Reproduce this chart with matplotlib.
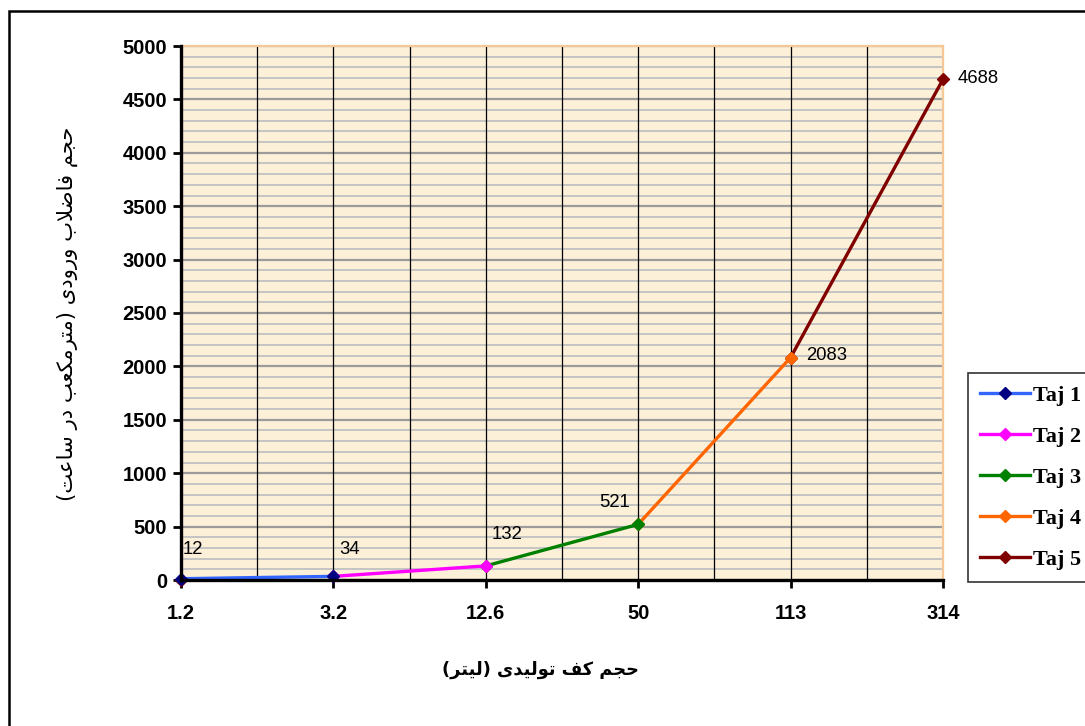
import numpy as np
import matplotlib.pyplot as plt
from matplotlib.ticker import MultipleLocator
from matplotlib.patches import Rectangle

# ---- data ----
categories = ['1.2', '3.2', '12.6', '50', '113', '314']
totals = [12, 34, 132, 521, 2083, 4688]
nan = np.nan
taj1 = [12, 34, nan, nan, nan, nan]
taj2 = [nan, 34, 132, nan, nan, nan]
taj3 = [nan, nan, 132, 521, nan, nan]
taj4 = [nan, nan, nan, 521, 2083, nan]
taj5 = [0, nan, nan, nan, 2083, 4688]
series_names = ['Taj 1', 'Taj 2', 'Taj 3', 'Taj 4', 'Taj 5']

x_title = 'حجم كف توليدى (ليتر)'
y_title = 'حجم فاضلاب ورودى (مترمكعب در ساعت)'

# styles
line_colors = ['#3366ff', '#ff00ff', '#008000', '#ff6600', '#800000']
marker_colors = ['#000080', '#ff00ff', '#008000', '#ff6600', '#800000']
label_offsets = [(12, 29), (16, 27), (21, 31), (-24, 22), (36, 2), (35, 1)]  # pixels


# matplotlib has no arabic shaping, so pick the presentation forms by hand
FORMS = {
    'ا': ('\uFE8D', '\uFE8E', None, None),
    'ب': ('\uFE8F', '\uFE90', '\uFE91', '\uFE92'),
    'ت': ('\uFE95', '\uFE96', '\uFE97', '\uFE98'),
    'ج': ('\uFE9D', '\uFE9E', '\uFE9F', '\uFEA0'),
    'ح': ('\uFEA1', '\uFEA2', '\uFEA3', '\uFEA4'),
    'د': ('\uFEA9', '\uFEAA', None, None),
    'ر': ('\uFEAD', '\uFEAE', None, None),
    'س': ('\uFEB1', '\uFEB2', '\uFEB3', '\uFEB4'),
    'ض': ('\uFEBD', '\uFEBE', '\uFEBF', '\uFEC0'),
    'ع': ('\uFEC9', '\uFECA', '\uFECB', '\uFECC'),
    'ف': ('\uFED1', '\uFED2', '\uFED3', '\uFED4'),
    'ك': ('\uFED9', '\uFEDA', '\uFEDB', '\uFEDC'),
    'ل': ('\uFEDD', '\uFEDE', '\uFEDF', '\uFEE0'),
    'م': ('\uFEE1', '\uFEE2', '\uFEE3', '\uFEE4'),
    'و': ('\uFEED', '\uFEEE', None, None),
    'ى': ('\uFEEF', '\uFEF0', '\uFBE8', '\uFBE9'),
    'ي': ('\uFEF1', '\uFEF2', '\uFEF3', '\uFEF4'),
}


def joins_next(c):
    return c in FORMS and FORMS[c][2] is not None


def shape(text):
    out = []
    i = 0
    n = len(text)
    while i < n:
        c = text[i]
        if c not in FORMS:
            out.append(c)
            i += 1
            continue
        prev_joins = i > 0 and joins_next(text[i - 1])
        if c == 'ل' and i + 1 < n and text[i + 1] == 'ا':
            out.append('\uFEFC' if prev_joins else '\uFEFB')
            i += 2
            continue
        next_joins = joins_next(c) and i + 1 < n and text[i + 1] in FORMS
        iso, fin, ini, med = FORMS[c]
        if prev_joins and next_joins:
            out.append(med)
        elif prev_joins:
            out.append(fin)
        elif next_joins:
            out.append(ini)
        else:
            out.append(iso)
        i += 1
    return ''.join(reversed(out)).translate(str.maketrans('()', ')('))


W, H = 1085, 726
fig = plt.figure(figsize=(W / 100, H / 100), dpi=100)
ax = fig.add_axes([181 / W, 1 - 580 / H, (943 - 181) / W, (580 - 46) / H])
ax.set_facecolor('#fcf0d9')
ax.set_axisbelow(True)

x = np.arange(len(categories))
ax.set_xlim(0, len(categories) - 1)
ax.set_ylim(0, 5000)

# grid
ax.yaxis.set_major_locator(MultipleLocator(500))
ax.yaxis.set_minor_locator(MultipleLocator(100))
ax.grid(which='minor', axis='y', color='#c4c4c4', lw=1.4)
ax.grid(which='major', axis='y', color='#9c9c9c', lw=1.6)
for xv in np.arange(0.5, len(categories) - 1, 0.5):
    ax.axvline(xv, color='black', lw=0.9, zorder=2)

all_series = [taj1, taj2, taj3, taj4, taj5]
for k in range(len(all_series) - 1, -1, -1):
    ax.plot(x, all_series[k], color=line_colors[k], lw=2.4,
            marker='D', ms=6, mfc=marker_colors[k], mec=marker_colors[k],
            label=series_names[k], zorder=5 + (5 - k), clip_on=False)

for i, v in enumerate(totals):
    dx, dy = label_offsets[i]
    ax.annotate(str(v), (x[i], v), xytext=(dx * 0.72, dy * 0.72),
                textcoords='offset points', ha='center', va='center',
                fontsize=13.3, family='Liberation Sans', zorder=20)

ax.set_xticks(x)
ax.set_xticklabels(categories)
for lab in ax.get_xticklabels() + ax.get_yticklabels():
    lab.set_fontfamily('Liberation Sans')
    lab.set_fontweight('bold')
    lab.set_fontsize(14.5)
ax.tick_params(axis='x', which='major', direction='out', length=6, width=2, pad=11)
ax.tick_params(axis='y', which='major', direction='out', length=6, width=2, pad=4)
ax.tick_params(axis='y', which='minor', length=0)

for s in ['left', 'bottom']:
    ax.spines[s].set_linewidth(2.4)
    ax.spines[s].set_color('black')
    ax.spines[s].set_zorder(15)
for s in ['top', 'right']:
    ax.spines[s].set_linewidth(1.6)
    ax.spines[s].set_color('#f6c897')

# axis titles
fig.text(540 / W, 1 - 670 / H, shape(x_title), ha='center', va='center',
         fontsize=12.8, fontweight='bold', family='DejaVu Sans')
fig.text(67 / W, 1 - 314 / H, shape(y_title), ha='center', va='center',
         rotation=90, fontsize=15.2, family='DejaVu Sans')

# legend in Taj 1..5 order
handles, labels = ax.get_legend_handles_labels()
leg = fig.legend(handles[::-1], labels[::-1], loc='upper left',
                 bbox_to_anchor=(968 / W, 1 - 373 / H), borderaxespad=0,
                 prop={'family': 'Liberation Serif', 'weight': 'bold', 'size': 16},
                 fancybox=False, framealpha=1, edgecolor='#333333',
                 handlelength=2.25, handletextpad=0.14, labelspacing=0.92,
                 borderpad=0.55)
leg.get_frame().set_linewidth(1.2)

# chart border
fig.add_artist(Rectangle((9 / W, -0.05), 1.1, 1 - 11 / H + 0.05,
                         transform=fig.transFigure, fill=False,
                         edgecolor='black', lw=1.8))

fig.savefig('out.png', dpi=100)
